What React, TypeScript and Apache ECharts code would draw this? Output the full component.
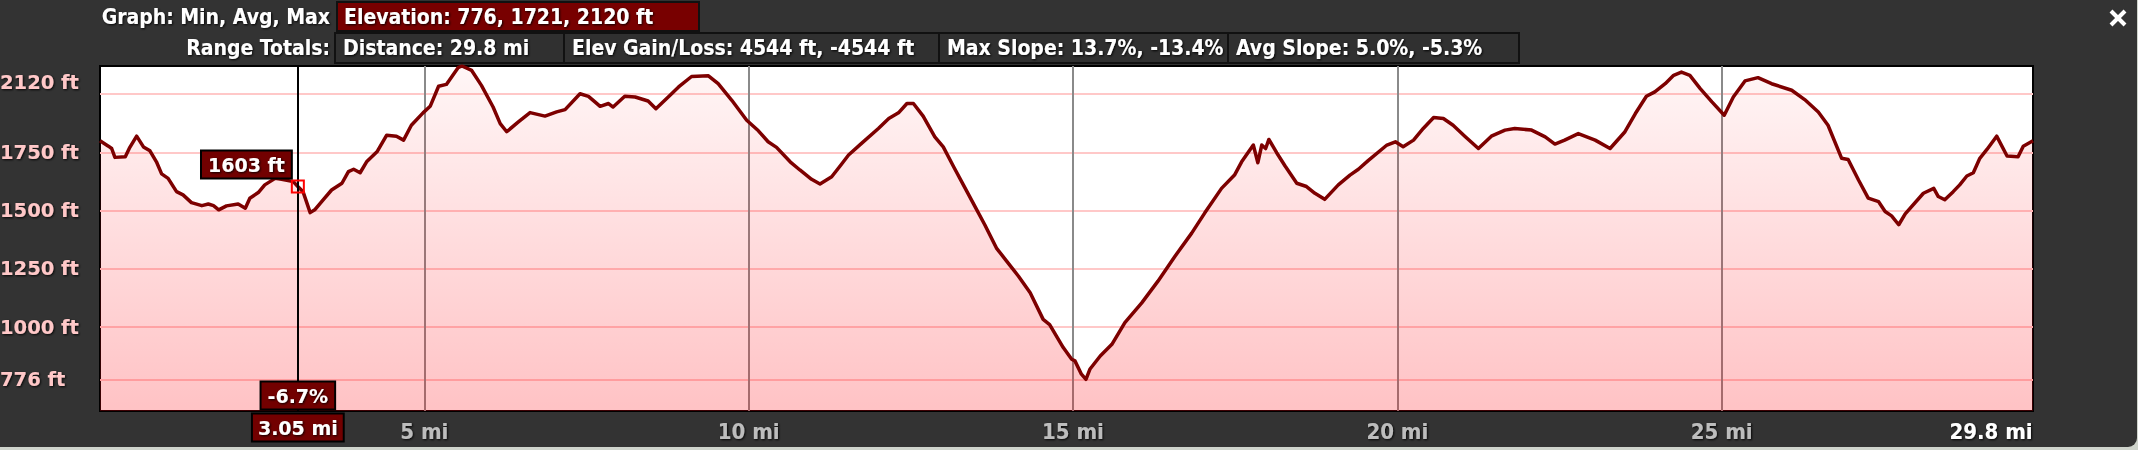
import { useEffect, useRef } from 'react';
import * as echarts from 'echarts';

// ---- data (distance in miles, elevation in feet) ----
const distanceMi = [
  0.0, 0.13, 0.18, 0.23, 0.39, 0.46, 0.565, 0.67, 0.77, 0.87, 0.95, 1.05, 1.18, 1.28, 1.41, 1.57, 1.67, 1.75, 1.83, 1.95,
  2.13, 2.24, 2.31, 2.44, 2.54, 2.7, 2.8, 2.98, 3.05, 3.13, 3.24, 3.31, 3.44, 3.57, 3.73, 3.83, 3.91, 4.01, 4.11, 4.27,
  4.42, 4.57, 4.68, 4.8, 4.98, 5.09, 5.22, 5.34, 5.52, 5.58, 5.73, 5.88, 6.06, 6.17, 6.27, 6.45, 6.63, 6.86, 7.04, 7.17,
  7.4, 7.53, 7.63, 7.71, 7.84, 7.91, 8.09, 8.25, 8.45, 8.57, 8.76, 8.92, 9.12, 9.38, 9.53, 9.74, 9.97, 10.15, 10.3, 10.43,
  10.64, 10.79, 10.97, 11.1, 11.28, 11.41, 11.54, 11.74, 12.0, 12.16, 12.31, 12.44, 12.54, 12.69, 12.87, 13.0, 13.16, 13.31, 13.49, 13.64,
  13.82, 13.98, 14.16, 14.34, 14.54, 14.64, 14.85, 14.98, 15.03, 15.13, 15.2, 15.26, 15.42, 15.6, 15.8, 16.06, 16.31, 16.57, 16.83, 17.03,
  17.29, 17.49, 17.6, 17.78, 17.85, 17.91, 17.97, 18.02, 18.14, 18.27, 18.45, 18.6, 18.73, 18.88, 19.09, 19.27, 19.4, 19.55, 19.84, 19.97,
  20.09, 20.25, 20.4, 20.56, 20.71, 20.86, 21.04, 21.25, 21.45, 21.66, 21.81, 22.07, 22.28, 22.43, 22.58, 22.79, 23.05, 23.28, 23.51, 23.67,
  23.84, 23.97, 24.13, 24.26, 24.38, 24.51, 24.67, 24.85, 25.04, 25.18, 25.36, 25.56, 25.77, 26.08, 26.28, 26.49, 26.64, 26.85, 26.95, 27.11,
  27.26, 27.42, 27.52, 27.62, 27.73, 27.83, 28.11, 28.27, 28.34, 28.44, 28.57, 28.67, 28.78, 28.88, 28.98, 29.09, 29.24, 29.4, 29.57, 29.65,
  29.8,
];
const elevationFt = [
  1799, 1776, 1766, 1728, 1731, 1771, 1819, 1773, 1756, 1709, 1657, 1638, 1581, 1567, 1534, 1521, 1528, 1521, 1503, 1520,
  1528, 1510, 1553, 1577, 1610, 1638, 1634, 1624, 1603, 1581, 1491, 1503, 1546, 1588, 1617, 1667, 1677, 1662, 1709, 1752,
  1823, 1819, 1802, 1866, 1919, 1947, 2033, 2041, 2113, 2120, 2101, 2037, 1944, 1873, 1838, 1880, 1920, 1905, 1923, 1933,
  2001, 1990, 1966, 1947, 1959, 1944, 1990, 1987, 1970, 1937, 1987, 2030, 2075, 2078, 2044, 1973, 1887, 1842, 1795, 1771,
  1709, 1674, 1634, 1614, 1645, 1691, 1738, 1788, 1852, 1895, 1919, 1959, 1959, 1905, 1816, 1773, 1688, 1610, 1517, 1439,
  1339, 1282, 1218, 1147, 1033, 1011, 912, 862, 855, 798, 776, 819, 876, 926, 1019, 1104, 1197, 1303, 1403, 1489,
  1595, 1652, 1709, 1781, 1705, 1781, 1766, 1805, 1748, 1691, 1617, 1603, 1574, 1548, 1610, 1652, 1677, 1714, 1781, 1795,
  1774, 1802, 1852, 1899, 1895, 1866, 1819, 1766, 1819, 1845, 1852, 1845, 1816, 1785, 1802, 1830, 1802, 1766, 1838, 1916,
  1990, 2009, 2044, 2080, 2094, 2080, 2023, 1966, 1909, 1987, 2056, 2070, 2044, 2016, 1976, 1923, 1866, 1724, 1719, 1631,
  1553, 1538, 1496, 1477, 1439, 1486, 1574, 1595, 1560, 1546, 1581, 1610, 1648, 1662, 1724, 1762, 1819, 1734, 1731, 1776,
  1799,
];

const yTickValues = [776, 1000, 1250, 1500, 1750, 2000];
const yLabelValues = [776, 1000, 1250, 1500, 1750, 2120];
const xTickValues = [5, 10, 15, 20, 25];
const xLabelValues = [5, 10, 15, 20, 25, 29.8];
const yMin = 640;
const yMax = 2120;
const xMax = 29.8;

const cursorMi = 3.05;
const cursorFt = 1603;
const cursorSlope = '-6.7%';

const headerRow1Label = 'Graph: Min, Avg, Max';
const headerRow1Value = 'Elevation: 776, 1721, 2120 ft';
const headerRow2Label = 'Range Totals:';
const headerRow2Values = [
  'Distance: 29.8 mi',
  'Elev Gain/Loss: 4544 ft, -4544 ft',
  'Max Slope: 13.7%, -13.4%',
  'Avg Slope: 5.0%, -5.3%',
];

const CFONT = "'DejaVu Sans Condensed', 'Liberation Sans Narrow', 'DejaVu Sans', sans-serif";
const BFONT = "'DejaVu Sans', sans-serif";

export default function App() {
  const ref = useRef<HTMLDivElement>(null);

  useEffect(() => {
    if (!ref.current) return;
    const chart = echarts.init(ref.current, undefined, { renderer: 'svg' });

    const data = distanceMi.map((d, i) => [d, elevationFt[i]]);

    const shadow = {
      textShadowColor: 'rgba(0,0,0,0.9)',
      textShadowBlur: 2,
      textShadowOffsetX: 1,
      textShadowOffsetY: 1,
    };

    const boxLabel = {
      show: true,
      color: '#fff',
      fontFamily: BFONT,
      fontWeight: 'bold',
      fontSize: 19,
      backgroundColor: '#720000',
      borderColor: '#000',
      borderWidth: 2,
      ...shadow,
    };

    // header boxes (layout)
    const row2Boxes = [
      [335, 229],
      [564, 375],
      [939, 289],
      [1228, 291],
    ];

    const headerText = (text: string, x: number, y: number, align: string) => ({
      type: 'text',
      z: 100,
      style: {
        text,
        x,
        y,
        align,
        verticalAlign: 'middle',
        fill: '#fff',
        fontFamily: CFONT,
        fontWeight: 'bold',
        fontSize: 21,
        ...shadow,
      },
    });

    const graphic: any[] = [
      // panel with rounded lower-right corner
      {
        type: 'rect',
        z: -10,
        shape: { x: 0, y: -10, width: 2137, height: 457, r: [0, 0, 9, 0] },
        style: { fill: '#333333' },
      },
      headerText(headerRow1Label, 330, 17, 'right'),
      {
        type: 'rect',
        z: 99,
        shape: { x: 337, y: 2, width: 362, height: 29 },
        style: { fill: '#780000', stroke: '#111', lineWidth: 2 },
      },
      headerText(headerRow1Value, 344, 17, 'left'),
      headerText(headerRow2Label, 330, 48, 'right'),
      ...row2Boxes.map(([x, w]) => ({
        type: 'rect',
        z: 99,
        shape: { x, y: 33, width: w, height: 30 },
        style: { fill: '#303030', stroke: '#111', lineWidth: 2 },
      })),
      ...headerRow2Values.map((t, i) => headerText(t, row2Boxes[i][0] + 8, 48, 'left')),
      // close icon
      { type: 'line', z: 100, shape: { x1: 2111, y1: 11, x2: 2125, y2: 25 }, style: { stroke: '#fff', lineWidth: 4 } },
      { type: 'line', z: 100, shape: { x1: 2125, y1: 11, x2: 2111, y2: 25 }, style: { stroke: '#fff', lineWidth: 4 } },
    ];

    chart.setOption({
      animation: false,
      backgroundColor: '#cfd4cc',
      graphic,
      grid: {
        left: 100,
        top: 66,
        right: 105,
        bottom: 39,
        show: true,
        backgroundColor: '#fff',
        borderColor: '#000',
        borderWidth: 2,
        outerBoundsMode: 'none',
      },
      xAxis: {
        type: 'value',
        min: 0,
        max: xMax,
        axisLine: { show: false },
        axisTick: { show: false, customValues: xTickValues },
        splitLine: { show: true, lineStyle: { color: '#8a8a8a', width: 2 } },
        axisLabel: {
          customValues: xLabelValues,
          margin: 9,
          color: '#bdbdbd',
          fontFamily: CFONT,
          fontWeight: 'bold',
          fontSize: 22,
          ...shadow,
          formatter: (v: number) => (Math.abs(v - xMax) < 0.01 ? `{max|${xMax} mi}` : `${v} mi`),
          rich: {
            max: {
              color: '#fff',
              fontFamily: CFONT,
              fontWeight: 'bold',
              fontSize: 22,
              padding: [0, 84, 0, 0],
              ...shadow,
            },
          },
        },
      },
      yAxis: {
        type: 'value',
        min: yMin,
        max: yMax,
        axisLine: { show: false },
        axisTick: { show: false, customValues: yTickValues },
        splitLine: { show: true, lineStyle: { color: '#ffc8c8', width: 2 } },
        axisLabel: {
          customValues: yLabelValues,
          align: 'left',
          margin: 100,
          color: '#ffc8c8',
          fontFamily: BFONT,
          fontWeight: 'bold',
          fontSize: 19.5,
          ...shadow,
          formatter: (v: number) => (v === yMax ? `{top|${v} ft}` : `${v} ft`),
          rich: {
            top: {
              color: '#ffc8c8',
              fontFamily: BFONT,
              fontWeight: 'bold',
              fontSize: 19.5,
              padding: [32, 0, 0, 0],
              ...shadow,
            },
          },
        },
      },
      series: [
        {
          type: 'line',
          data,
          showSymbol: false,
          symbol: 'none',
          silent: true,
          lineStyle: { color: '#7d0000', width: 3.5, join: 'round' },
          areaStyle: {
            color: new echarts.graphic.LinearGradient(0, 0, 0, 1, [
              { offset: 0, color: 'rgba(255,0,10,0.05)' },
              { offset: 1, color: 'rgba(255,0,10,0.34)' },
            ]),
          },
          markLine: {
            silent: true,
            symbol: 'none',
            label: { show: false },
            lineStyle: { color: '#000', width: 2, type: 'solid' },
            data: [{ xAxis: cursorMi }],
          },
          markPoint: {
            silent: true,
            data: [
              {
                coord: [cursorMi, cursorFt],
                symbol: 'rect',
                symbolSize: 12,
                itemStyle: { color: 'rgba(0,0,0,0)', borderColor: '#ff0000', borderWidth: 2 },
                label: {
                  ...boxLabel,
                  formatter: `${cursorFt} ft`,
                  position: 'left',
                  distance: 0,
                  offset: [0, -22],
                  padding: [4, 6, 3, 6],
                },
              },
              {
                coord: [cursorMi, yMin],
                symbol: 'rect',
                symbolSize: 1,
                itemStyle: { color: 'rgba(0,0,0,0)' },
                label: {
                  ...boxLabel,
                  formatter: cursorSlope,
                  position: 'top',
                  distance: 2,
                  padding: [4, 6, 3, 6],
                },
              },
              {
                coord: [cursorMi, yMin],
                symbol: 'rect',
                symbolSize: 1,
                itemStyle: { color: 'rgba(0,0,0,0)' },
                label: {
                  ...boxLabel,
                  formatter: `${cursorMi} mi`,
                  position: 'bottom',
                  distance: 3,
                  padding: [4, 5, 3, 5],
                },
              },
            ],
          },
        },
      ],
    });

    return () => chart.dispose();
  }, []);

  return (
    <div
      ref={ref}
      style={{ position: 'absolute', left: 0, top: 0, width: 2138, height: 450 }}
    />
  );
}
